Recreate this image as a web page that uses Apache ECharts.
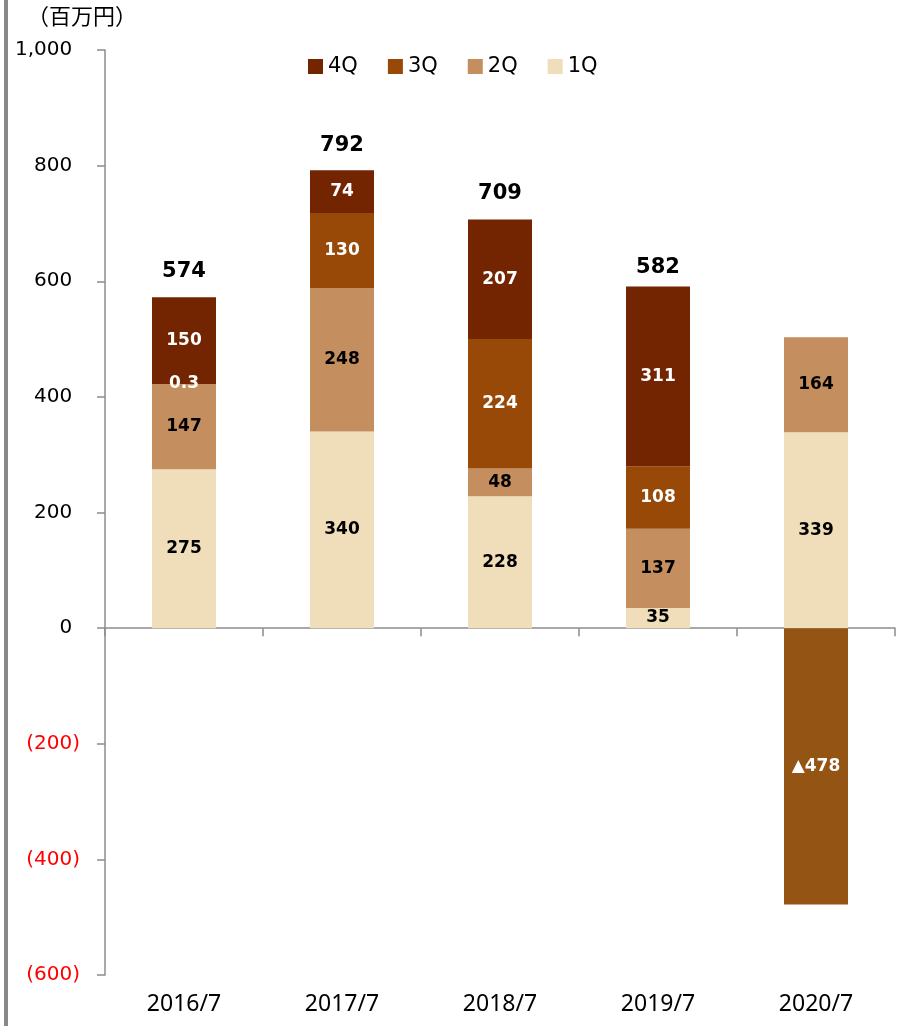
<!DOCTYPE html>
<html>
<head>
<meta charset="utf-8">
<script src="https://cdn.jsdelivr.net/npm/echarts@6/dist/echarts.min.js"></script>
<style>
html,body{margin:0;padding:0;background:#fff;}
#chart{width:903px;height:1026px;}
</style>
</head>
<body>
<div id="chart"></div>
<script>
var categories = ['2016/7', '2017/7', '2018/7', '2019/7', '2020/7'];
var q1 = [275, 340, 228, 35, 339];
var q2 = [147, 248, 48, 137, 164];
var q3 = [0.3, 130, 224, 108, -478];
var q4 = [150, 74, 207, 311, null];
var totals = [574, 792, 709, 582, null];
var yTicks = { min: -600, max: 1000, interval: 200 };
var unitLabel = '（百万円）';

var C4 = '#722500', C3 = '#984807', C3neg = '#935414', C2 = '#C48E5E', C1 = '#F0DEBA';
var labelFont = 'DejaVu Sans';

function barLabel(color) {
  return {
    show: true, position: 'inside', color: color,
    fontFamily: labelFont, fontWeight: 'bold', fontSize: 17,
    formatter: function (p) {
      var v = p.value;
      if (v == null) return '';
      return v < 0 ? '▲' + Math.abs(v) : String(v);
    }
  };
}

var q3Data = q3.map(function (v) {
  return v < 0 ? { value: v, itemStyle: { color: C3neg } } : v;
});

var chart = echarts.init(document.getElementById('chart'), null, { renderer: 'canvas' });
chart.setOption({
  animation: false,
  backgroundColor: '#fff',
  grid: { left: 105, right: 8, top: 50, bottom: 51, containLabel: false },
  legend: {
    data: ['4Q', '3Q', '2Q', '1Q'],
    left: 303, top: 51,
    itemWidth: 15, itemHeight: 15, itemGap: 30,
    icon: 'rect',
    textStyle: { fontFamily: labelFont, fontSize: 21, color: '#000' }
  },
  graphic: [
    { type: 'rect', shape: { x: 4, y: 0, width: 4, height: 1026 }, style: { fill: '#898989' } },
    { type: 'text', left: 27, top: 5, style: { text: unitLabel, font: '22px "Noto Sans CJK JP"', fill: '#000' } }
  ],
  xAxis: [
    {
      type: 'category', data: categories, position: 'bottom',
      axisLine: { show: true, onZero: true, lineStyle: { color: '#8c8c8c', width: 1.5 } },
      axisTick: { show: true, length: 8, lineStyle: { color: '#8c8c8c', width: 1.5 } },
      axisLabel: { show: false }
    },
    {
      type: 'category', data: categories, position: 'bottom',
      axisLine: { show: false, onZero: false },
      axisTick: { show: false },
      axisLabel: { show: true, margin: 18, fontFamily: 'Noto Sans', fontSize: 23, color: '#000' }
    }
  ],
  yAxis: {
    type: 'value', min: yTicks.min, max: yTicks.max, interval: yTicks.interval,
    splitLine: { show: false },
    axisLine: { show: true, lineStyle: { color: '#8c8c8c', width: 1.5 } },
    axisTick: { show: true, length: 8, lineStyle: { color: '#8c8c8c', width: 1.5 } },
    axisLabel: {
      margin: 25,
      formatter: function (v) {
        if (v < 0) return '{n|(' + Math.abs(v).toLocaleString('en-US') + ')}';
        return '{p|' + v.toLocaleString('en-US') + '}{h|)}';
      },
      rich: {
        n: { color: '#ff0000', fontFamily: labelFont, fontSize: 20 },
        p: { color: '#000', fontFamily: labelFont, fontSize: 20 },
        h: { color: 'rgba(0,0,0,0)', fontFamily: labelFont, fontSize: 20 }
      }
    }
  },
  series: [
    { name: '1Q', type: 'bar', stack: 'q', barWidth: 64, data: q1, itemStyle: { color: C1 }, label: barLabel('#000') },
    { name: '2Q', type: 'bar', stack: 'q', barWidth: 64, data: q2, itemStyle: { color: C2 }, label: barLabel('#000') },
    { name: '3Q', type: 'bar', stack: 'q', barWidth: 64, data: q3Data, itemStyle: { color: C3 }, label: barLabel('#fff') },
    { name: '4Q', type: 'bar', stack: 'q', barWidth: 64, data: q4, itemStyle: { color: C4 }, label: barLabel('#fff') },
    {
      name: 'total', type: 'bar', barWidth: 64, barGap: '-100%', data: totals, silent: true, z: 1,
      itemStyle: { color: 'rgba(0,0,0,0)' },
      label: {
        show: true, position: 'top', distance: 14, color: '#000',
        fontFamily: labelFont, fontWeight: 'bold', fontSize: 21,
        formatter: function (p) { return p.value == null ? '' : String(p.value); }
      }
    }
  ]
});
</script>
</body>
</html>
